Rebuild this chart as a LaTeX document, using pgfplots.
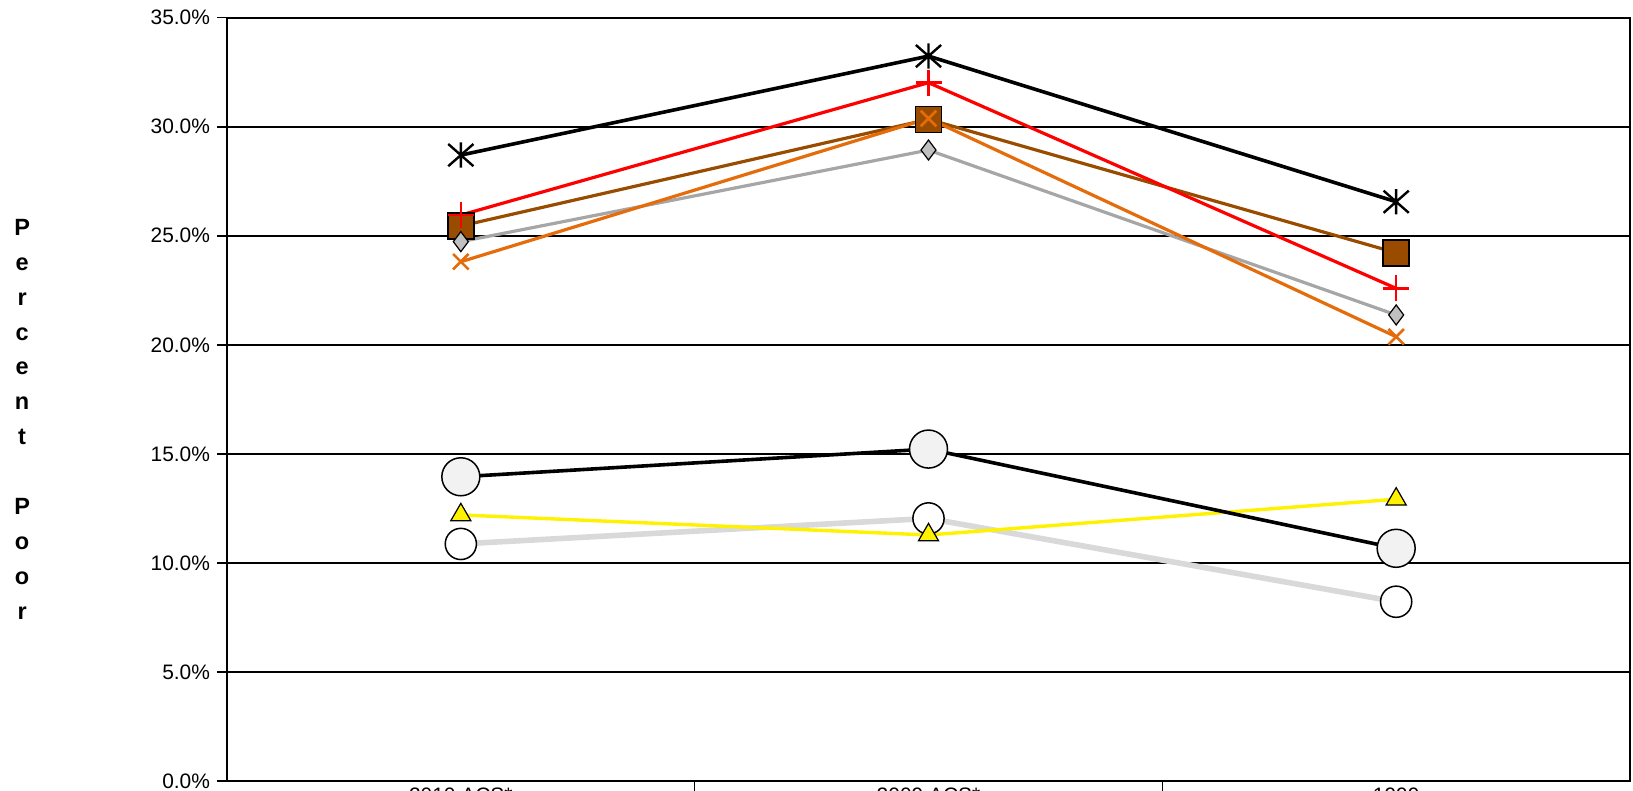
\documentclass[border=0pt]{standalone}
\usepackage{pgfplots}
\pgfplotsset{compat=1.18}
\usepackage{fontspec}
\setmainfont{Liberation Sans}
\definecolor{cbrown}{RGB}{153,76,0}
\definecolor{corange}{RGB}{228,108,10}
\definecolor{cgrayline}{RGB}{166,166,166}
\definecolor{cgrayfill}{RGB}{192,192,192}
\definecolor{clight}{RGB}{217,217,217}
\definecolor{cbig}{RGB}{242,242,242}
\pgfdeclareplotmark{vx}{%
  \pgfpathmoveto{\pgfqpoint{0pt}{-\pgfplotmarksize}}%
  \pgfpathlineto{\pgfqpoint{0pt}{\pgfplotmarksize}}%
  \pgfpathmoveto{\pgfqpoint{-\pgfplotmarksize}{-0.88\pgfplotmarksize}}%
  \pgfpathlineto{\pgfqpoint{\pgfplotmarksize}{0.88\pgfplotmarksize}}%
  \pgfpathmoveto{\pgfqpoint{-\pgfplotmarksize}{0.88\pgfplotmarksize}}%
  \pgfpathlineto{\pgfqpoint{\pgfplotmarksize}{-0.88\pgfplotmarksize}}%
  \pgfusepathqstroke}
\begin{document}
\begin{tikzpicture}
\begin{axis}[
  scale only axis, width=701.5bp, height=381.65bp,
  xmin=-0.5, xmax=2.5, ymin=0, ymax=35,
  ytick={0,5,...,35},
  ymajorgrids, grid style={black, line width=0.8bp},
  axis line style={black, line width=1bp},
  xtick={0.5,1.5}, xticklabels={},
  extra x ticks={0,1,2},
  extra x tick labels={2010 ACS*, 2009 ACS*, 1999},
  extra x tick style={major tick length=0pt, grid=none},
  tick align=outside, xtick pos=bottom, ytick pos=left,
  major tick length=5bp,
  tick style={black, line width=0.8bp},
  yticklabel={\pgfmathprintnumber[fixed,fixed zerofill,precision=1]{\tick}\%},
  /pgf/number format/assume math mode=true,
  tick label style={font=\fontsize{10.5}{12}\selectfont},
  ylabel={P\\e\\r\\c\\e\\n\\t\\~\\P\\o\\o\\r},
  ylabel style={rotate=-90, align=center, at={(rel axis cs:-0.146,0.474)}, anchor=center, font=\fontsize{11.8}{17.5}\selectfont\bfseries},
  clip=false,
]
% brown squares
\addplot[cbrown, line width=1.6bp, mark=square*, mark size=6.5bp, mark options={solid, fill=cbrown, draw=black, line width=0.75bp}]
  coordinates {(0,25.45) (1,30.34) (2,24.22)};
% gray diamonds
\addplot[cgrayline, line width=1.6bp, mark=diamond*, mark size=5bp, mark options={solid, fill=cgrayfill, draw=black, line width=0.6bp}]
  coordinates {(0,24.73) (1,28.93) (2,21.37)};
% red plus
\addplot[red, line width=1.6bp, mark=+, mark size=6.5bp, mark options={solid, line width=1.3bp}]
  coordinates {(0,25.95) (1,32.02) (2,22.59)};
% orange x
\addplot[corange, line width=1.6bp, mark=x, mark size=5.5bp, mark options={solid, line width=1.3bp}]
  coordinates {(0,23.81) (1,30.38) (2,20.37)};
% black asterisk
\addplot[black, line width=1.8bp, mark=vx, mark size=6.3bp, mark options={solid, line width=1.2bp}]
  coordinates {(0,28.70) (1,33.24) (2,26.56)};
% light gray line, white circles
\addplot[clight, line width=2.8bp, mark=*, mark size=7.8bp, mark options={solid, fill=white, draw=black, line width=0.75bp}]
  coordinates {(0,10.87) (1,12.04) (2,8.22)};
% yellow triangles
\addplot[yellow, line width=1.7bp, mark=triangle*, mark size=5.8bp, mark options={solid, fill=yellow, draw=black, line width=0.6bp}]
  coordinates {(0,12.2) (1,11.28) (2,12.92)};
% black line, big circles
\addplot[black, line width=1.8bp, mark=*, mark size=9.5bp, mark options={solid, fill=cbig, draw=black, line width=0.75bp}]
  coordinates {(0,13.95) (1,15.22) (2,10.67)};
\end{axis}
\pgfresetboundingbox
\path[use as bounding box] ([xshift=-113.5bp,yshift=-5bp]current axis.south west) rectangle ([xshift=1.5bp,yshift=8.85bp]current axis.north east);
\end{tikzpicture}
\end{document}
